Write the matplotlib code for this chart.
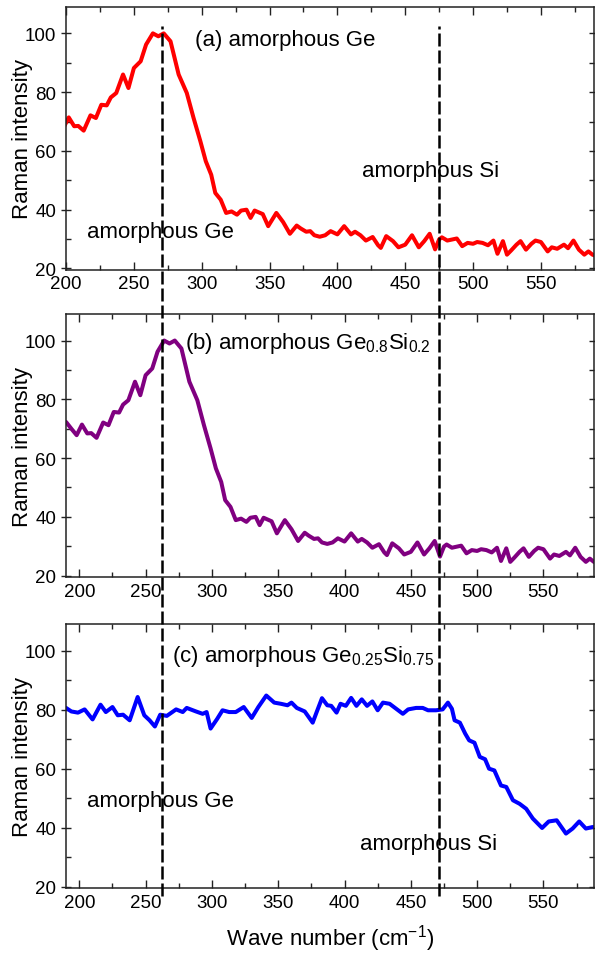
import numpy as np
import matplotlib
matplotlib.use("Agg")
import matplotlib.pyplot as plt
import matplotlib.transforms as mtransforms
from matplotlib.lines import Line2D
from matplotlib.ticker import MultipleLocator

plt.rcParams['font.family'] = ['Liberation Sans', 'DejaVu Sans']
plt.rcParams['mathtext.fontset'] = 'custom'
plt.rcParams['mathtext.rm'] = 'Liberation Sans'

# Ge-rich spectrum, used for panels (a) and (b)
wn_ge = [190, 194, 198, 202, 206, 209, 213, 218, 222, 226, 230, 233, 237, 242, 246,
         250, 255, 259, 264, 268, 272, 277, 283, 289, 294, 299, 303, 307, 310, 314,
         318, 322, 326, 329, 333, 336, 339, 345, 349, 355, 360, 365, 370, 373, 377,
         380, 383, 387, 391, 395, 400, 405, 410, 413, 417, 421, 426, 430, 432, 436,
         441, 445, 450, 455, 460, 464, 468, 472, 475, 477, 481, 485, 488, 492, 496,
         500, 503, 507, 511, 515, 518, 522, 525, 528, 532, 535, 539, 543, 546, 550,
         555, 558, 562, 567, 570, 574, 578, 582, 585, 588, 592]
int_ge = [72.3, 70.0, 67.8, 71.4, 68.4, 68.5, 66.9, 72.1, 71.2, 75.7, 75.5, 78.2, 79.7, 86.0, 81.4,
          88.2, 90.5, 96.2, 100.0, 99.0, 100.0, 97.3, 86.0, 79.7, 71.2, 63.3, 56.5, 51.9, 45.7, 43.4,
          38.9, 39.4, 38.3, 39.7, 40.0, 37.2, 39.7, 38.5, 34.4, 38.9, 35.8, 31.8, 34.6, 33.6, 32.5,
          32.7, 31.3, 30.8, 31.3, 32.7, 31.6, 34.4, 31.6, 32.5, 31.3, 29.5, 30.7, 27.9, 27.0, 31.0,
          29.3, 27.2, 28.1, 31.3, 27.2, 29.3, 31.8, 26.5, 29.9, 30.6, 29.5, 29.9, 30.2, 27.6, 28.7,
          28.4, 29.0, 28.7, 27.9, 29.5, 25.0, 29.3, 24.7, 26.1, 28.1, 29.3, 26.4, 28.4, 29.5, 29.0,
          25.8, 27.2, 26.7, 28.1, 26.9, 29.5, 26.4, 24.7, 25.8, 24.7, 24.0]

# Si-rich spectrum, panel (c)
wn_si = [190, 194, 199, 204, 210, 216, 220, 225, 229, 233, 238, 244, 249, 253, 257,
         261, 266, 273, 278, 281, 288, 293, 296, 299, 304, 308, 313, 318, 324, 330,
         335, 341, 347, 352, 357, 360, 364, 370, 376, 379, 383, 387, 390, 394, 397,
         401, 405, 409, 413, 417, 421, 425, 429, 434, 439, 444, 448, 454, 459, 463,
         469, 474, 478, 481, 483, 487, 491, 494, 498, 502, 506, 509, 513, 518, 522,
         527, 532, 537, 542, 549, 554, 560, 567, 572, 577, 582, 587, 592]
int_si = [80.6, 79.4, 79.0, 80.1, 76.7, 81.7, 79.2, 80.9, 78.1, 78.3, 76.4, 84.3, 78.1, 76.4, 74.3,
          78.3, 77.9, 80.1, 79.2, 80.6, 79.4, 78.6, 79.2, 73.6, 76.9, 79.8, 79.2, 79.2, 80.9, 77.2,
          80.9, 84.8, 82.4, 82.0, 81.5, 82.4, 80.6, 79.4, 75.6, 79.2, 83.9, 81.5, 81.3, 79.0, 82.0,
          81.3, 84.0, 81.3, 83.5, 81.3, 82.8, 79.8, 82.4, 82.0, 80.3, 78.6, 80.1, 80.6, 80.6, 79.8,
          79.8, 80.1, 82.4, 80.3, 76.4, 75.6, 71.9, 69.6, 68.8, 64.0, 63.2, 60.0, 59.4, 54.3, 53.8,
          49.3, 48.1, 46.4, 43.1, 39.9, 42.1, 42.5, 38.0, 39.7, 42.1, 39.7, 40.2, 40.0]

ge_peak = 262   # dashed marker positions, cm^-1 (panels b, c)
si_peak = 471

fig = plt.figure(figsize=(5.95, 9.54), dpi=100)
ax_a = fig.add_axes([0.111, 0.716, 0.887, 0.2757])
ax_b = fig.add_axes([0.111, 0.394, 0.887, 0.2757])
ax_c = fig.add_axes([0.111, 0.068, 0.887, 0.2767])

line_kw = dict(lw=2.9, solid_joinstyle='round', solid_capstyle='round')
ax_a.plot(wn_ge, int_ge, color='#ff0000', **line_kw)
ax_b.plot(wn_ge, int_ge, color='#800080', **line_kw)
ax_c.plot(wn_si, int_si, color='#0000ff', **line_kw)

ax_a.set_xlim(200, 589)
ax_b.set_xlim(190, 588)
ax_c.set_xlim(190, 588)

for ax in (ax_a, ax_b, ax_c):
    ax.set_ylim(19.5, 109)
    ax.xaxis.set_major_locator(MultipleLocator(50))
    ax.xaxis.set_minor_locator(MultipleLocator(25))
    ax.yaxis.set_major_locator(MultipleLocator(20))
    ax.yaxis.set_minor_locator(MultipleLocator(10))
    ax.tick_params(which='both', direction='in', top=True, right=True,
                   labelsize=13.5, width=1.0, colors='#222222', labelcolor='black')
    ax.tick_params(which='major', length=6)
    ax.tick_params(which='minor', length=3.5)
    ax.tick_params(axis='y', which='major', left=True, direction='inout', length=7)
    ax.tick_params(axis='x', which='major', pad=4)
    for sp in ax.spines.values():
        sp.set_linewidth(1.1)
        sp.set_color('#222222')
    ax.set_ylabel('Raman intensity', fontsize=16)
    ax.yaxis.set_label_coords(-0.062, 0.5)

ax_c.set_xlabel('Wave number (cm$^{-1}$)', fontsize=16, labelpad=8)

txt = dict(fontsize=16, ha='left', va='center')
ax_a.text(295, 98, '(a) amorphous Ge', **txt)
ax_a.text(215.5, 32.5, 'amorphous Ge', **txt)
ax_a.text(418.5, 53.2, 'amorphous Si', **txt)
ax_b.text(279.5, 99.5, r'(b) amorphous Ge$_{0.8}$Si$_{0.2}$', **txt)
ax_c.text(269.7, 98.5, r'(c) amorphous Ge$_{0.25}$Si$_{0.75}$', **txt)
ax_c.text(206, 49.3, 'amorphous Ge', **txt)
ax_c.text(412, 34.6, 'amorphous Si', **txt)

# dashed guide lines running through all three panels
trans = mtransforms.blended_transform_factory(ax_b.transData, fig.transFigure)
for xv in (ge_peak, si_peak):
    ln = Line2D([xv, xv], [0.0597, 0.9717], transform=trans, color='black',
                lw=1.8, zorder=5)
    ln.set_dashes((5.2, 1.6))
    fig.add_artist(ln)

fig.savefig('out.png', dpi=100)
